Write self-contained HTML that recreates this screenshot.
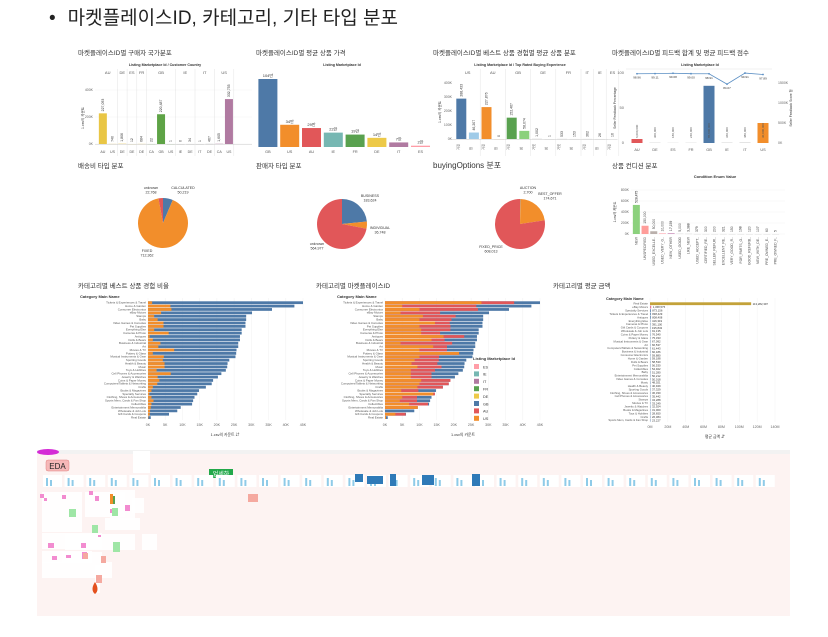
<!DOCTYPE html>
<html><head><meta charset="utf-8">
<style>
body{margin:0;background:#fff;width:828px;height:637px;overflow:hidden;font-family:"Liberation Sans","Noto Sans CJK KR",sans-serif;}
#title{position:absolute;left:49px;top:3px;font-size:19px;color:#222;font-family:"Liberation Sans","Noto Sans CJK KR",sans-serif;}
svg{position:absolute;left:0;top:0}
svg text{font-family:"Liberation Sans","Noto Sans CJK KR",sans-serif;}
</style></head><body>
<div id="title"><span style="margin-right:12px">•</span>마켓플레이스ID, 카테고리, 기타 타입 분포</div>
<svg id="s" width="828" height="637"></svg>
<script>
// ---- data ----
const c1Groups=["AU","DE","ES","FR","GB","IE","IT","US"];
const c1Sub=["AU","US","DE","DE","DE","CA","GB","US","IE","DE","IT","DE","CA","US"];
const c1SubGroup=[0,0,1,2,3,4,4,4,5,5,6,6,7,7];
const c1Vals=[227093,740,1806,12,684,22,220487,1,0,34,1,467,1605,332755];
const c1Colors=["#e9c645","#e9c645","#e9c645","#e9c645","#e9c645","#5ea346","#5ea346","#5ea346","#888","#888","#888","#888","#b07aa1","#b07aa1"];
const c2Cats=["GB","US","AU","IE","FR","DE","IT","ES"];
const c2Vals=[104,34,29,22,19,14,7,2];
const c2Colors=["#4e79a7","#f28e2b","#e15759","#76b7b2","#59a14f","#edc948","#b07aa1","#ff9da7"];
const c3Groups=["US","AU","GB","DE","FR","IT","IE","ES"];
const c3Vals=[288433,46207,227876,0,152467,58074,1002,1,533,153,362,26,16];
const c3Group=[0,0,1,1,2,2,3,3,4,4,5,6,7];
const c3Colors=["#4e79a7","#a0cbe8","#f28e2b","#ffbe7d","#59a14f","#8cd17d","#aaa","#aaa","#aaa","#aaa","#aaa","#aaa","#aaa"];
const c4Cats=["AU","DE","ES","FR","GB","IE","IT","US"];
const c4Pct=[98.96,99.11,99.68,99.0,98.91,84.07,99.91,97.89];
const c4Score=[100,5,3,4,1430,6,8,500];
const c4Colors=["#e15759","#aaa","#aaa","#aaa","#4e79a7","#aaa","#aaa","#f28e2b"];
const pie1Labels=["CALCULATED","FIXED","unknown"];
const pie1Vals=[50219,712362,22768];
const pie2Labels=["BUSINESS","INDIVIDUAL","unknown"];
const pie2Vals=[183624,36748,564977];
const pie3Labels=["AUCTION","BEST_OFFER","FIXED_PRICE"];
const pie3Vals=[2700,174671,608013];
const condCats=["NEW","UNSPECIFIED","USED_EXCELLE..","USED_VERY_G..","NEW_OTHER","USED_GOOD","LIKE_NEW","USED_ACCEPT..","CERTIFIED_RE..","SELLER_REFUR..","EXCELLENT_RE..","VERY_GOOD_R..","FOR_PARTS_O..","GOOD_REFURB..","NEW_WITH_DE..","PRE_OWNED_E..","PRE_OWNED_F.."];
const condVals=[528475,150000,50000,10000,17159,5000,3388,379,300,200,321,150,198,120,107,60,5];
const condColors=["#8cd17d","#ff9d9a","#bab0ac","#ff9da7","#d4a6c8","#ccc","#ccc","#ccc","#ccc","#ccc","#ccc","#ccc","#ccc","#ccc","#ccc","#ccc","#ccc"];
const cats=["Tickets & Experiences & Travel","Home & Garden","Consumer Electronics","eBay Motors","Stamps","Baby","Video Games & Consoles","Pet Supplies","Everything Else","Cameras & Photo","Antiques","Dolls & Bears","Business & Industrial","Art","Movies & TV","Pottery & Glass","Musical Instruments & Gear","Sporting Goods","Health & Beauty","Music","Toys & Hobbies","Cell Phones & Accessories","Jewelry & Watches","Coins & Paper Money","Computers/Tablets & Networking","Crafts","Books & Magazines","Specialty Services","Clothing, Shoes & Accessories","Sports Mem, Cards & Fan Shop","Collectibles","Entertainment Memorabilia","Wholesale & Job Lots","Gift Cards & Coupons","Real Estate"];
const catTotal=[45,42.5,36,30.2,28.5,28.5,28.3,28.3,27.2,27.2,26.7,26.7,26.2,26.2,25.7,25.6,25.4,23.6,23.1,23.0,22.6,21.3,20.3,18.9,18.5,16.8,14.8,14.3,13.5,13.1,12.8,9.5,8.5,6.1,0.8];
const catBest=[1.2,6.5,6.8,3.8,1.8,2.8,4.5,4.5,1.8,6.0,0.5,1.4,3.6,3.0,7.6,1.4,4.6,4.3,4.8,4.8,2.5,6.6,2.8,3.3,2.7,1.4,1.0,0.4,1.0,1.6,1.0,0.8,0.6,0.5,0.1];
const catUS=[28,5,10,4.5,11,10,14.5,10,10.5,10.5,17,13.5,4.5,14,10,21.5,10,8.6,7.7,9.4,7.5,7.5,7.5,10.5,10,9.4,4.7,14,5,4.3,7,9.5,0,3,0.3];
const catAU=[9.5,21.5,17,11.5,9.5,9.3,4.3,9,8.5,5.5,6,3.8,15,4,8,0,5.7,7,7.5,7,7,6,6,8.5,8.5,7.4,5,0.5,4.3,5,5.5,0,0,3,0];
const avgCats=["Real Estate","eBay Motors","Specialty Services","Tickets & Experiences & Travel","Antiques","Everything Else","Cameras & Photo","Gift Cards & Coupons","Wholesale & Job Lots","Coins & Paper Money","Pottery & Glass","Musical Instruments & Gear","Art","Computers/Tablets & Networking","Business & Industrial","Consumer Electronics","Home & Garden","Dolls & Bears","Pet Supplies","Collectibles","Baby","Entertainment Memorabilia","Video Games & Consoles","Music","Health & Beauty","Sporting Goods","Clothing, Shoes & Accessories","Cell Phones & Accessories","Stamps","Movies & TV","Jewelry & Watches","Books & Magazines","Toys & Hobbies","Crafts","Sports Mem, Cards & Fan Shop"];
const avgVals=[113282397,1368575,873156,838429,808408,416319,391100,195843,91135,76540,75333,67092,66537,61443,60186,59880,59188,58530,56530,54922,51280,50212,50018,48021,40949,37329,36330,35442,34288,33249,32924,31000,28650,26384,23227];
const tk1=[0,200000,400000], tk1L=["0K","200K","400K"];
const tk3=[0,100000,200000,300000,400000], tk3L=["0K","100K","200K","300K","400K"];
const tkCat=[0,5,10,15,20,25,30,35,40,45];
const tkAvg=[0,20,40,60,80,100,120,140];
const legItems=["ES","IE","IT","FR","DE","GB","AU","US"];
const legColors=["#ff9da7","#76b7b2","#b07aa1","#59a14f","#edc948","#4e79a7","#e15759","#f28e2b"];

// ---- helpers ----
const S=document.getElementById('s');const NS="http://www.w3.org/2000/svg";
function mk(tag,a,parent){const e=document.createElementNS(NS,tag);for(const k in a)e.setAttribute(k,a[k]);(parent||S).appendChild(e);return e;}
function tx(x,y,t,size,fill,anchor,extra){const e=mk('text',Object.assign({x:x,y:y,'font-size':size,fill:fill||'#333','text-anchor':anchor||'start'},extra||{}));e.textContent=t;return e;}
function lin(d0,d1,r0,r1){return v=>r0+(v-d0)/(d1-d0)*(r1-r0);}

// ---- chart titles ----
const titles=[[78,55,"마켓플레이스ID별 구매자 국가분포"],[256,55,"마켓플레이스ID별 평균 상품 가격"],[433,55,"마켓플레이스ID별 베스트 상품 경험별 평균 상품 분포"],[612,55,"마켓플레이스ID별 피드백 합계 및 평균 피드백 점수"],[78,168,"배송비 타입 분포"],[256,168,"판매자 타입 분포"],[433,168,"buyingOptions 분포"],[612,168,"상품 컨디션 분포"],[78,288,"카테고리별 베스트 상품 경험 비율"],[316,288,"카테고리별 마켓플레이스ID"],[553,288,"카테고리별 평균 금액"]];
titles.forEach(t=>{const e=tx(t[0],t[1],t[2],t[0]>430&&t[1]==168&&t[0]<600?8:6.5,'#333');

});

// ---- chart 1 ----
{const y=lin(0,400000,144,90);const x0=98,step=9.7;
tx(165,66,"Listing Marketplace Id / Customer Country",3.6,'#333','middle',{'font-weight':'bold'});
tk1.forEach((t,i)=>{tx(93,y(t)+1,tk1L[i],3.5,'#666','end');mk('line',{x1:95,x2:252,y1:y(t),y2:y(t),stroke:'#eee','stroke-width':0.4});});
tx(84,118,"1.csv의 카운트",3.5,'#333','middle',{transform:'rotate(-90 84 118)'});
let gx=[];c1SubGroup.forEach((g,i)=>{if(gx[g]===undefined)gx[g]=[i,i];gx[g][1]=i;});
gx.forEach((r,g)=>{const xa=x0+r[0]*step,xb=x0+(r[1]+1)*step;tx((xa+xb)/2,74,c1Groups[g],4,'#555','middle');mk('line',{x1:xb,x2:xb,y1:69,y2:156,stroke:'#ddd','stroke-width':0.4});});
c1Vals.forEach((v,i)=>{const cx=x0+i*step+step/2;const b=mk('rect',{x:cx-4,y:y(v),width:8,height:Math.max(144-y(v),0.3),fill:c1Colors[i]});


tx(cx+1,y(v)-2,v.toLocaleString('en-US'),3.5,'#333','start',{transform:'rotate(-90 '+(cx+1)+' '+(y(v)-2)+')'});
tx(cx,153,c1Sub[i],3.6,'#555','middle');});
mk('line',{x1:95,x2:252,y1:144.3,y2:144.3,stroke:'#bbb','stroke-width':0.4});}

// ---- chart 2 ----
{const y=lin(0,104,147,79);const x0=257,step=21.8;
tx(342,66,"Listing Marketplace Id",3.6,'#333','middle',{'font-weight':'bold'});
c2Vals.forEach((v,i)=>{const cx=x0+i*step+step/2;const b=mk('rect',{x:cx-9.5,y:y(v),width:19,height:147-y(v),fill:c2Colors[i]});


tx(cx,y(v)-2,v+"만",4,'#333','middle');tx(cx,153,c2Cats[i],3.8,'#555','middle');});}

// ---- chart 3 ----
{const y=lin(0,400000,139,83);const x0=455,step=12.6;
tx(520,66,"Listing Marketplace Id / Top Rated Buying Experience",3.6,'#333','middle',{'font-weight':'bold'});
tk3.forEach((t,i)=>{tx(452,y(t)+1,tk3L[i],3.5,'#666','end');});
tx(441,112,"1.csv의 카운트",3.5,'#333','middle',{transform:'rotate(-90 441 112)'});
let gx=[];c3Group.forEach((g,i)=>{if(gx[g]===undefined)gx[g]=[i,i];gx[g][1]=i;});
gx.forEach((r,g)=>{const xa=x0+r[0]*step,xb=x0+(r[1]+1)*step;tx((xa+xb)/2,74,c3Groups[g],4,'#555','middle');mk('line',{x1:xb,x2:xb,y1:69,y2:156,stroke:'#ddd','stroke-width':0.4});});
c3Vals.forEach((v,i)=>{const cx=x0+i*step+step/2;const b=mk('rect',{x:cx-5,y:y(v),width:10,height:Math.max(139-y(v),0.3),fill:c3Colors[i]});


tx(cx+1,y(v)-2,v.toLocaleString('en-US'),3.5,'#333','start',{transform:'rotate(-90 '+(cx+1)+' '+(y(v)-2)+')'});
tx(cx+1,147,i%2?'참':'거짓',3.3,'#555','start',{transform:'rotate(-90 '+(cx+1)+' 150)'});});
mk('line',{x1:452,x2:608,y1:139.3,y2:139.3,stroke:'#bbb','stroke-width':0.4});}

// ---- chart 4 ----
{const yl=lin(0,100,143,73);const yr=lin(0,1500,143,83);const x0=628,step=18;
tx(700,66,"Listing Marketplace Id",3.6,'#333','middle',{'font-weight':'bold'});
[0,50,100].forEach(t=>tx(624,yl(t)+1,t,4,'#666','end'));
[0,500,1000,1500].forEach(t=>tx(778,yr(t)+1,t+(t?"K":"K"),3.5,'#666','start'));
tx(616,108,"Seller Feedback Percentage",3.3,'#333','middle',{transform:'rotate(-90 616 108)'});
tx(792,108,"Seller Feedback Score 합",3.3,'#333','middle',{transform:'rotate(-90 792 108)'});
mk('line',{x1:626,x2:772,y1:69,y2:69,stroke:'#ddd','stroke-width':0.4});
c4Score.forEach((v,i)=>{const cx=x0+i*step+step/2;const b=mk('rect',{x:cx-5.5,y:yr(v),width:11,height:143-yr(v),fill:c4Colors[i]});


tx(cx+1,138,Math.round(v*60000).toLocaleString('en-US'),3,'#555','start',{transform:'rotate(-90 '+(cx+1)+' 138)'});
tx(cx,151,c4Cats[i],3.8,'#555','middle');});
const pts=c4Pct.map((v,i)=>(x0+i*step+step/2)+","+yl(v)).join(" ");
const l=mk('polyline',{points:pts,fill:'none',stroke:'#5b8fc4','stroke-width':0.8});


c4Pct.forEach((v,i)=>{const cx=x0+i*step+step/2;mk('circle',{cx:cx,cy:yl(v),r:0.9,fill:'#5b8fc4'});tx(cx,yl(v)+5,v.toFixed(2),3,'#333','middle');});}

// ---- pies ----
function pie(cx,cy,r,vals,labels,colors,name,lpos){const tot=vals.reduce((a,b)=>a+b,0);let a=-Math.PI/2;
vals.forEach((v,i)=>{const a2=a+v/tot*2*Math.PI;const large=a2-a>Math.PI?1:0;
const p=mk('path',{d:`M${cx},${cy} L${cx+r*Math.cos(a)},${cy+r*Math.sin(a)} A${r},${r} 0 ${large} 1 ${cx+r*Math.cos(a2)},${cy+r*Math.sin(a2)} Z`,fill:colors[i]});


const lp=lpos[i];tx(lp[0],lp[1],labels[i],3.6,'#333','middle');tx(lp[0],lp[1]+4.5,v.toLocaleString('en-US'),3.6,'#333','middle');
a=a2;});}
pie(163,223,25,pie1Vals,pie1Labels,["#4e79a7","#f28e2b","#e15759"],'shipping-pie',[[183,189],[147,252],[151,189]]);
pie(342,224,25,pie2Vals,pie2Labels,["#4e79a7","#f28e2b","#e15759"],'seller-pie',[[370,197],[380,229],[317,245]]);
pie(520,224,25,pie3Vals,pie3Labels,["#aaa","#f28e2b","#e15759"],'buying-options-pie',[[528,189],[550,195],[491,248]]);

// ---- condition chart ----
{const y=lin(0,800000,234,190);const x0=632,step=8.7;
tx(715,178,"Condition Enum Value",4,'#333','middle',{'font-weight':'bold'});
[0,200000,400000,600000,800000].forEach(t=>{tx(629,y(t)+1,(t/1000)+"K",3.5,'#666','end');mk('line',{x1:631,x2:785,y1:y(t),y2:y(t),stroke:'#eee','stroke-width':0.4});});
tx(616,212,"1.csv의 카운트",3.3,'#333','middle',{transform:'rotate(-90 616 212)'});
condVals.forEach((v,i)=>{const cx=x0+i*step+step/2;const b=mk('rect',{x:cx-3.5,y:y(v),width:7,height:Math.max(234-y(v),0.3),fill:condColors[i]});


tx(cx+1,y(v)-2,v.toLocaleString('en-US'),3.4,'#333','start',{transform:'rotate(-90 '+(cx+1)+' '+(y(v)-2)+')'});
tx(cx+1,237,condCats[i],3.4,'#555','end',{transform:'rotate(-90 '+(cx+1)+' 237)'});});}

// ---- category charts ----
function catAxis(x,y0,y1,ticks,fmt,title,tx0){ticks.forEach(t=>{const xx=x(t);mk('line',{x1:xx,x2:xx,y1:y0,y2:y1,stroke:'#eee','stroke-width':0.4});tx(xx,y1+6,fmt(t),3.6,'#666','middle');});tx(tx0,y1+16,title,3.8,'#333','middle');}
{const x=lin(0,45,148,303);const rh=3.38,y0=301;
tx(80,298,"Category Main Name",4,'#333','start',{'font-weight':'bold'});
catAxis(x,298,420,tkCat,t=>t+"K","1.csv의 카운트 ⇵",225);
cats.forEach((c,i)=>{const yy=y0+i*rh;tx(146,yy+2.6,c,2.9,'#555','end');
const b=mk('rect',{x:x(0),y:yy+0.3,width:x(catTotal[i])-x(0),height:rh-0.6,fill:'#4e79a7'});


const o=mk('rect',{x:x(0),y:yy+0.3,width:x(catBest[i])-x(0),height:rh-0.6,fill:'#f28e2b'});

});}
{const x=lin(0,45,385,540);const rh=3.38,y0=301;
tx(337,298,"Category Main Name",4,'#333','start',{'font-weight':'bold'});
catAxis(x,298,420,tkCat,t=>t+"K","1.csv의 카운트",463);
cats.forEach((c,i)=>{const yy=y0+i*rh;tx(383,yy+2.6,c,2.9,'#555','end');
const gb=mk('rect',{x:x(0),y:yy+0.3,width:x(catTotal[i])-x(0),height:rh-0.6,fill:'#4e79a7'});


const au=mk('rect',{x:x(0),y:yy+0.3,width:x(catUS[i]+catAU[i])-x(0),height:rh-0.6,fill:'#e15759'});


const us=mk('rect',{x:x(0),y:yy+0.3,width:x(catUS[i])-x(0),height:rh-0.6,fill:'#f28e2b'});

});
tx(473,360,"Listing Marketplace Id",4,'#333','start',{'font-weight':'bold'});
legItems.forEach((l,i)=>{const ly=364+i*7.4;const r=mk('rect',{x:474,y:ly,width:5,height:5,fill:legColors[i]});


tx(483,ly+4.3,l,3.8,'#333');});}
{const x=lin(0,140,650,775);const rh=3.43,y0=302;
tx(606,300,"Category Main Name",3.8,'#333','start',{'font-weight':'bold'});
catAxis(x,298,422,tkAvg,t=>t+"M","평균 금액 ⇵",715);
avgCats.forEach((c,i)=>{const yy=y0+i*rh;tx(648,yy+2.6,c,2.8,'#555','end');
const v=avgVals[i]/1e6;const b=mk('rect',{x:x(0),y:yy+0.3,width:Math.max(x(v)-x(0),0.4),height:rh-0.6,fill:i==0?'#c3a23a':i==1?'#e07b9a':'#4e79a7'});


tx(Math.max(x(v),x(0)+0.5)+1.5,yy+2.8,avgVals[i].toLocaleString('en-US'),2.8,'#333');});}

// ---- bottom board image ----
{const g=mk('g',{});
mk('rect',{x:37,y:450,width:753,height:166,fill:'#fdf3f2'},g);
mk('rect',{x:37,y:450,width:753,height:4,fill:'#f2f2f2'},g);
mk('ellipse',{cx:48,cy:452,rx:11,ry:3,fill:'#d42bd6'},g);
mk('rect',{x:46,y:460,width:23,height:11,rx:2,fill:'#f6b8b8',stroke:'#e08080','stroke-width':0.5},g);
tx(57.5,469,"EDA",8,'#222','middle');
mk('rect',{x:209,y:469,width:24,height:9,fill:'#22a84a'},g);tx(221,476,"업세하",6,'#fff','middle');
mk('rect',{x:133,y:451,width:17,height:22,fill:'#fff'},g);
const rowA=[];for(let i=0;i<34;i++)rowA.push(i);
rowA.forEach(i=>{mk('rect',{x:43+i*21.6,y:475,width:19,height:12,fill:'#fff'},g);mk('rect',{x:46+i*21.6,y:478,width:2,height:8,fill:'#8fcbe8'},g);mk('rect',{x:50+i*21.6,y:480,width:2,height:6,fill:'#8fcbe8'},g);});
[[355,474,8,8],[367,476,16,8],[390,474,6,12],[422,475,12,10],[472,474,8,12]].forEach(r=>mk('rect',{x:r[0],y:r[1],width:r[2],height:r[3],fill:'#2f7ab8'},g));
[[42,492,40,25],[85,492,40,25],[110,490,25,30],[42,517,40,15],[105,518,35,12],[42,533,60,16],[65,534,70,16],[142,534,15,16],[42,551,50,12],[62,552,40,10],[42,562,70,16],[95,565,5,28],[132,498,12,15]].forEach(r=>mk('rect',{x:r[0],y:r[1],width:r[2],height:r[3],fill:'#fff',opacity:0.9},g));
[[40,494,4,4],[44,498,3,3],[62,495,4,4],[89,491,4,4],[95,496,4,5],[110,509,4,4],[125,505,5,6],[48,543,6,5],[52,556,5,4],[66,555,5,3],[81,543,5,5],[82,552,5,7],[98,535,3,2]].forEach(r=>mk('rect',{x:r[0],y:r[1],width:r[2],height:r[3],fill:'#f28cd0'},g));
[[69,509,7,8],[112,508,6,8],[113,542,7,10],[92,525,6,8]].forEach(r=>mk('rect',{x:r[0],y:r[1],width:r[2],height:r[3],fill:'#9fe6a6'},g));
[[248,494,10,8],[83,553,5,6],[96,575,6,8],[101,556,5,7]].forEach(r=>mk('rect',{x:r[0],y:r[1],width:r[2],height:r[3],fill:'#f5a9a0'},g));
mk('path',{d:'M95,582 Q90,590 95,594 Q100,590 95,582 Z',fill:'#e4501e'},g);
mk('rect',{x:110,y:494,width:3,height:10,fill:'#f28e2b'},g);mk('rect',{x:113,y:496,width:2,height:8,fill:'#59a14f'},g);
}
</script>
</body></html>
